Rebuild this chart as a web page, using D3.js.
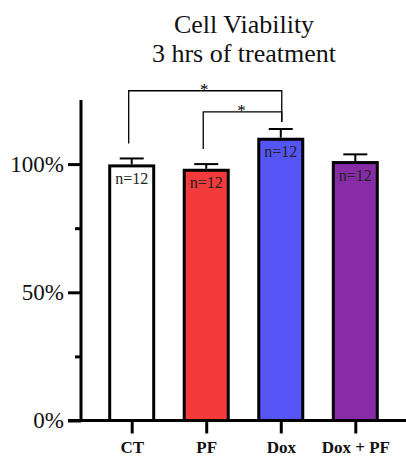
<!DOCTYPE html>
<html><head><meta charset="utf-8">
<script src="https://cdn.jsdelivr.net/npm/d3@7"></script>
<style>body{margin:0;background:#fff}svg{display:block}</style>
</head><body><svg id="c" width="406" height="456"></svg>
<script>
const categories = ["CT", "PF", "Dox", "Dox + PF"];
const means = [99.3, 97.6, 109.7, 100.6];
const sems = [2.9, 2.4, 4.0, 3.2];
const nLabels = ["n=12", "n=12", "n=12", "n=12"];
const colors = ["#ffffff", "#f33b3c", "#5555f5", "#872ba6"];
const yTicks = [0, 50, 100];
const yMinorTicks = [25, 75];
const comparisons = [{from: "CT", to: "Dox", level: 128.6, label: "*"}, {from: "PF", to: "Dox", level: 120.4, label: "*"}];
const titleLines = ["Cell Viability", "3 hrs of treatment"];

const serif = "'Liberation Serif','Times New Roman',serif";
const svg = d3.select("#c");
const y = d3.scaleLinear().domain([0, 125]).range([420.5, 100]);
const x = d3.scalePoint().domain(categories).range([131.7, 355.3]);
const barW = 44;

// title
svg.append("g").selectAll("text").data(titleLines).join("text")
  .attr("x", 244).attr("y", (d, i) => 33 + i * 29)
  .attr("text-anchor", "middle").attr("font-family", serif).attr("font-size", 26)
  .attr("fill", "#111").text(d => d);

// bars
svg.append("g").selectAll("rect").data(categories).join("rect")
  .attr("x", d => x(d) - barW / 2).attr("width", barW)
  .attr("y", (d, i) => y(means[i])).attr("height", (d, i) => y(0) - y(means[i]))
  .attr("fill", (d, i) => colors[i]).attr("stroke", "#000").attr("stroke-width", 3);

// error bars
const eb = svg.append("g").attr("stroke", "#000").attr("stroke-width", 2);
categories.forEach((c, i) => {
  eb.append("line").attr("x1", x(c)).attr("x2", x(c)).attr("y1", y(means[i]) - 1.5).attr("y2", y(means[i] + sems[i]));
  eb.append("line").attr("x1", x(c) - 12).attr("x2", x(c) + 12).attr("y1", y(means[i] + sems[i])).attr("y2", y(means[i] + sems[i]));
});

// n labels
svg.append("g").selectAll("text").data(categories).join("text")
  .attr("x", d => x(d)).attr("y", (d, i) => y(means[i]) + 18)
  .attr("text-anchor", "middle").attr("font-family", serif).attr("font-size", 16)
  .attr("fill", "#222").text((d, i) => nLabels[i]);

// y axis
const yAxis = svg.append("g").attr("transform", "translate(81,0)")
  .call(d3.axisLeft(y).tickValues(yTicks).tickSize(13).tickFormat(d => d + "%"));
yAxis.select(".domain").remove();
yAxis.selectAll(".tick line").attr("stroke-width", 3);
yAxis.selectAll(".tick text").attr("font-family", serif).attr("font-size", 23).attr("fill", "#111").attr("x", -17);
const yMinor = svg.append("g").attr("transform", "translate(81,0)")
  .call(d3.axisLeft(y).tickValues(yMinorTicks).tickSize(6).tickFormat(""));
yMinor.select(".domain").remove();
yMinor.selectAll(".tick line").attr("stroke-width", 3);
svg.append("line").attr("x1", 81).attr("x2", 81).attr("y1", y(125)).attr("y2", y(0) + 1.5)
  .attr("stroke", "#000").attr("stroke-width", 3);

// x axis
const xAxis = svg.append("g").attr("transform", `translate(0,${y(0)})`)
  .call(d3.axisBottom(x).tickSize(13).tickSizeOuter(0));
xAxis.select(".domain").remove();
xAxis.selectAll(".tick line").attr("stroke-width", 3);
xAxis.selectAll(".tick text").attr("font-family", serif).attr("font-size", 17).attr("font-weight", "bold")
  .attr("fill", "#111").attr("y", 0).attr("dy", 0).attr("transform", "translate(0,32.5)");
svg.append("line").attr("x1", 68).attr("x2", 406).attr("y1", y(0)).attr("y2", y(0))
  .attr("stroke", "#000").attr("stroke-width", 3);

// significance brackets
const br = svg.append("g");
comparisons.forEach(cmp => {
  const i0 = categories.indexOf(cmp.from), i1 = categories.indexOf(cmp.to);
  const x0 = x(cmp.from) - 3, x1 = x(cmp.to) + 1;
  const yl = y(cmp.level);
  const yLeft = y(means[i0] + sems[i0]) - 15;
  const yRight = y(means[i1] + sems[i1]) - 7;
  br.append("path").attr("d", `M${x0},${yLeft}V${yl}H${x1}V${yRight}`)
    .attr("fill", "none").attr("stroke", "#000").attr("stroke-width", 1.3);
  br.append("text").attr("x", (x0 + x1) / 2 - 1).attr("y", yl + 4.5).attr("text-anchor", "middle")
    .attr("font-family", serif).attr("font-size", 17).attr("fill", "#000").text(cmp.label);
});
</script></body></html>
